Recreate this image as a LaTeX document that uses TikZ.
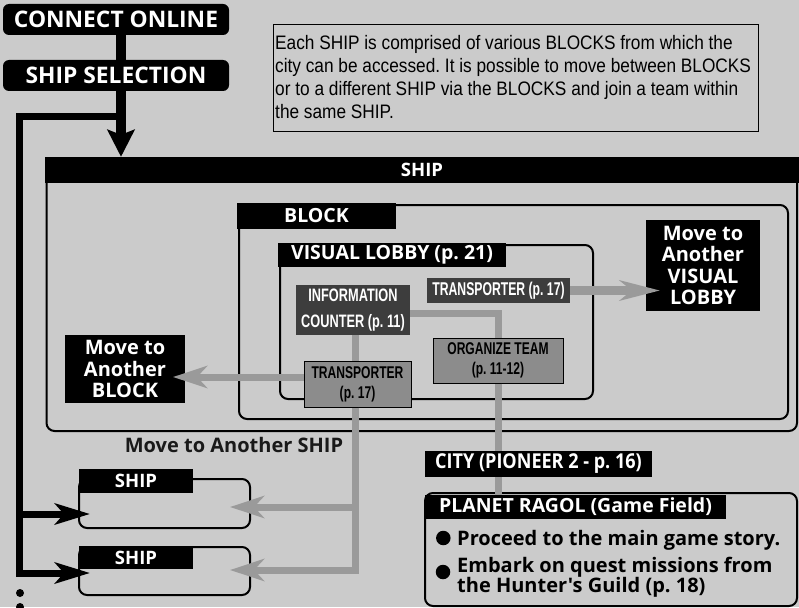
\documentclass[tikz,border=0pt]{standalone}
\usepackage{fontspec}
\setmainfont{Liberation Sans}
\newfontfamily\hdfont{Open Sans}
\newfontfamily\hdcfont{Open Sans}[FakeStretch=0.88]
\newfontfamily\condfont{Liberation Sans}[FakeStretch=0.71]
\newfontfamily\condafont{Liberation Sans}[FakeStretch=0.66]
\newfontfamily\descfont{Liberation Sans}[FakeStretch=0.885]
\usetikzlibrary{arrows.meta}
\definecolor{bgc}{HTML}{CBCBCB}
\definecolor{dkc}{HTML}{3D3D3D}
\definecolor{mdc}{HTML}{8C8C8C}
\definecolor{lnc}{HTML}{9A9A9A}
\newcommand\myfs[2]{\fontsize{#1}{#2}\selectfont}
\tikzset{
  pill/.style={fill=black,text=white,rounded corners=6pt,inner sep=0pt,font=\hdfont\bfseries\myfs{22.8}{24}},
  blk/.style={fill=black,text=white,inner sep=0pt,align=center},
  frm/.style={draw=black,line width=2pt,rounded corners=8pt,inner sep=0pt},
  dkbox/.style={fill=dkc,text=white,inner sep=0pt,align=center},
  mdbox/.style={fill=mdc,draw=black,line width=1pt,text=black,inner sep=0pt,align=center},
  gline/.style={draw=lnc,line width=7pt},
  garrow/.style={gline,-{Stealth[length=34pt,width=22pt,inset=10pt]}},
  garrowb/.style={draw=lnc,line width=9pt,-{Stealth[length=40pt,width=20pt,inset=12pt]}},
  bline/.style={draw=black,line width=7pt},
  barrow/.style={bline,-{Stealth[length=35pt,width=21pt,inset=9pt]}},
  bigarrow/.style={draw=black,line width=10pt,-{Stealth[length=27pt,width=27pt,inset=5pt]}},
  hdb/.style={font=\hdfont\bfseries\myfs{#1}{#1}},
  hdm/.style={font=\hdfont\bfseries\myfs{20}{21.5}}
}
\begin{document}
\begin{tikzpicture}[x=1pt,y=-1pt]
\fill[bgc] (0,0) rectangle (799,607);
\useasboundingbox (0,0) rectangle (799,607);

% ---- frames ----
\node[frm, minimum width=750.5, minimum height=261] (shipfrm) at (421.75,300.5) {};
\node[blk, minimum width=754, minimum height=26, hdb=18.5] (shipbar) at (422,170) {SHIP};
\node[frm, minimum width=549, minimum height=214] (blockfrm) at (513.5,312) {};
\node[blk, minimum width=159, minimum height=26, hdb=19.5] (blocklbl) at (316.5,216) {BLOCK};
\node[frm, minimum width=313, minimum height=154] (vlfrm) at (436.5,322) {};
\node[blk, minimum width=228, minimum height=24, hdb=19.5] (vllbl) at (392,255) {VISUAL LOBBY (p.~21)};

\node[frm, minimum width=171, minimum height=49] (s1frm) at (164.5,503.5) {};
\node[blk, minimum width=114, minimum height=24, hdb=18.5] (s1lbl) at (136,481) {SHIP};
\node[frm, minimum width=171, minimum height=48] (s2frm) at (164.5,571) {};
\node[blk, minimum width=114, minimum height=23, hdb=18.5] (s2lbl) at (136,557.5) {SHIP};

\node[frm, minimum width=372, minimum height=113] (plfrm) at (611,549.5) {};
\node[blk, minimum width=301, minimum height=24, hdb=19.5] (pllbl) at (575.5,507) {PLANET RAGOL (Game Field)};

% ---- top ----
\node[pill, minimum width=226, minimum height=31] (connect) at (116,19.5) {CONNECT ONLINE};
\node[pill, minimum width=226, minimum height=31] (shipsel) at (116,75.5) {SHIP SELECTION};

\node[draw=black, line width=1.2pt, fill=bgc, anchor=north west, inner sep=0pt,
      minimum width=485, minimum height=107] (desc) at (273,24) {};
\node[anchor=north west, inner sep=0pt, align=left, font=\descfont\frenchspacing\myfs{19.5}{23}] (desctext) at (275,35)
 {Each SHIP is comprised of various BLOCKS from which the\\
  city can be accessed. It is possible to move between BLOCKS\\
  or to a different SHIP via the BLOCKS and join a team within\\
  the same SHIP.};

% ---- boxes ----
\node[dkbox, minimum width=114, minimum height=50, font=\condfont\bfseries\myfs{18}{26}] (info) at (353,310) {INFORMATION\\COUNTER (p.~11)};
\node[dkbox, minimum width=143, minimum height=25, font=\condafont\bfseries\myfs{18.5}{20}] (trans1) at (498.5,290.5) {TRANSPORTER (p.~17)};
\node[mdbox, minimum width=130, minimum height=45, font=\condfont\bfseries\myfs{17}{20}] (organize) at (498,360.5) {ORGANIZE TEAM\\(p.~11-12)};
\node[mdbox, minimum width=107, minimum height=46, font=\condfont\bfseries\myfs{17}{20}] (trans2) at (357.5,384) {TRANSPORTER\\(p.~17)};

\node[blk, minimum width=114, minimum height=91, hdm] (mvvl) at (703,265.5) {Move to\\Another\\VISUAL\\LOBBY};
\node[blk, minimum width=120, minimum height=68, hdm] (mvbl) at (125,369) {Move to\\Another\\BLOCK};
\node[blk, minimum width=227, minimum height=26, font=\hdcfont\bfseries\myfs{20.5}{22}] (city) at (538.5,464) {CITY (PIONEER 2 - p.~16)};
\node[text=black!90, inner sep=0pt, hdb=20] (mvship) at (234,445) {Move to Another SHIP};

% bullets
\node[circle, fill=black, minimum size=14.5, inner sep=0pt] (b1) at (443.3,538) {};
\node[circle, fill=black, minimum size=14.5, inner sep=0pt] (b2) at (443,572) {};
\node[anchor=base west, inner sep=0pt, hdb=20] (t1) at (457,545) {Proceed to the main game story.};
\node[anchor=base west, inner sep=0pt, hdb=20] (t2) at (457,572) {Embark on quest missions from};
\node[anchor=base west, inner sep=0pt, hdb=20] (t3) at (457,592) {the Hunter's Guild (p.~18)};

% ---- black connectors ----
\coordinate (br) at (121,116.5);
\coordinate (lc1) at (19.5,514);
\coordinate (lc2) at (19.5,573);
\coordinate (s1tip) at (90,514);
\coordinate (s2tip) at (90,573);
\draw[draw=black, line width=10pt] ([xshift=5pt]connect.south) -- ([xshift=5pt]shipsel.north);
\draw[bigarrow] ([xshift=5pt]shipsel.south) -- (br |- shipbar.north);
\draw[barrow] (br) -| (lc2) -- (s2tip);
\draw[barrow] (lc1) -- (s1tip);

% ---- gray connectors ----
\coordinate (vltip) at (660,290.5);
\coordinate (bltip) at (173,377);
\coordinate (gj) at (355,507);
\coordinate (s1gt) at (230,507);
\coordinate (s2gt) at (230,570);
\draw[gline] ([yshift=-3.5pt]info.east) -| (organize.north);
\draw[gline] ([xshift=2pt]info.south) -- ([xshift=-2.5pt]trans2.north);
\draw[gline] (organize.south) -- (organize.south |- city.north);
\draw[gline] (organize.south |- city.south) -- (organize.south |- pllbl.north);
\draw[garrowb] (trans1.east) -- (vltip);
\draw[garrow] ([yshift=7pt]trans2.west) -- (bltip);
\draw[garrow] ([xshift=-2.5pt]trans2.south) |- (s2gt);
\draw[garrow] (gj) -- (s1gt);

% dots
\fill[black] (20,593) circle (4);
\fill[black] (20,607) circle (4);
\end{tikzpicture}
\end{document}
